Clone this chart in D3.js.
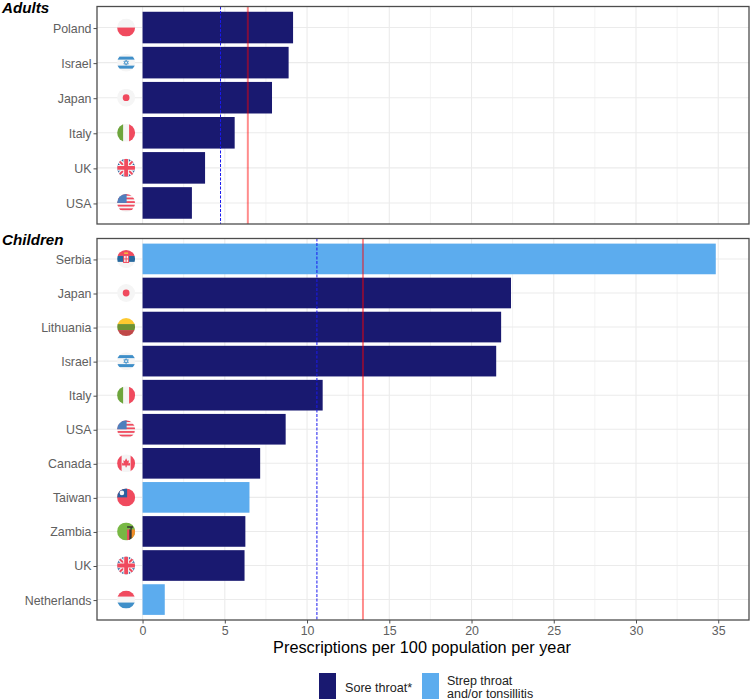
<!DOCTYPE html>
<html><head><meta charset="utf-8">
<script src="https://cdn.jsdelivr.net/npm/d3@7"></script>
<style>html,body{margin:0;padding:0;background:#fff}svg{display:block}text{font-family:"Liberation Sans",Arial,sans-serif}</style>
</head><body><svg id="c" width="750" height="700"></svg>
<script>
const adultCountries=["Poland","Israel","Japan","Italy","UK","USA"];
const adultValues=[9.15,8.88,7.87,5.6,3.8,3.0];
const adultTypes=["s","s","s","s","s","s"];
const childCountries=["Serbia","Japan","Lithuania","Israel","Italy","USA","Canada","Taiwan","Zambia","UK","Netherlands"];
const childValues=[34.85,22.4,21.8,21.5,10.95,8.7,7.15,6.5,6.25,6.2,1.35];
const childTypes=["t","s","s","s","s","s","s","t","s","s","t"];
const adultMedian=4.74, adultMean=6.4, childMedian=10.6, childMean=13.4;
const xTicks=[0,5,10,15,20,25,30,35];
const xMinor=[2.5,7.5,12.5,17.5,22.5,27.5,32.5];
const legendLabels=["Sore throat*",["Strep throat","and/or tonsillitis"]];
const NAVY="#191970",SKY="#5cacee",GRID="#ebebeb",AX="#4d4d4d",TICK="#606060";
const svg=d3.select("#c");
const L=97,R=749;
const x=d3.scaleLinear().domain([-2.77,36.87]).range([L,R]);
let clipN=0;
function flag(g,name){
  const r=9,id="fc"+(clipN++);
  g.append("clipPath").attr("id",id).append("circle").attr("r",r);
  const f=g.append("g").attr("clip-path",`url(#${id})`);
  const rect=(a,b,w,h,c)=>f.append("rect").attr("x",a).attr("y",b).attr("width",w).attr("height",h).attr("fill",c);
  const line=(a,b,c,d,col,w)=>f.append("line").attr("x1",a).attr("y1",b).attr("x2",c).attr("y2",d).attr("stroke",col).attr("stroke-width",w);
  const W="#f5f5f5",RD="#f04a5e",BL="#3f8fc9",DB="#2a5f9e";
  rect(-r,-r,18,18,W);
  if(name==="Poland"){rect(-r,0,18,9,RD);}
  if(name==="Israel"){rect(-r,-6,18,3,BL);rect(-r,3,18,3,BL);
    f.append("path").attr("d","M0,-2.6L2.3,1.4H-2.3ZM0,2.6L2.3,-1.4H-2.3Z").attr("fill","none").attr("stroke",BL).attr("stroke-width",.7);}
  if(name==="Japan"){f.append("circle").attr("r",3.4).attr("fill",RD);}
  if(name==="Italy"){rect(-r,-r,6,18,"#6da53c");rect(3,-r,6,18,RD);}
  if(name==="UK"){rect(-r,-r,18,18,DB);
    line(-9,-9,9,9,W,4.5);line(-9,9,9,-9,W,4.5);line(-9,-9,9,9,RD,2);line(-9,9,9,-9,RD,2);
    line(-9,0,9,0,W,5.6);line(0,-9,0,9,W,5.6);line(-9,0,9,0,RD,3.8);line(0,-9,0,9,RD,3.8);}
  if(name==="USA"){for(let i=0;i<5;i++)rect(-r,-9+i*3.6,18,1.8,RD);rect(-r,-9,9.5,9,"#4f7fbd");}
  if(name==="Serbia"){rect(-r,-9,18,6,RD);rect(-r,-3,18,6,"#27689e");rect(-r,3,18,6,W);
    rect(-3,-5,6,9,RD);rect(-2,-3,4,6,W);line(0,-3,0,3,RD,1);line(-2,0,2,0,RD,1);rect(-2,-6.5,4,1.5,"#f0c040");}
  if(name==="Lithuania"){rect(-r,-9,18,6,"#fdc92f");rect(-r,-3,18,6,"#6d9233");rect(-r,3,18,6,"#c04848");}
  if(name==="Canada"){rect(-r,-r,4.5,18,RD);rect(4.5,-r,4.5,18,RD);
    f.append("path").attr("d","M0,-5L1.4,-2.4L2.8,-3L2.4,.2L4,-.6L4,2.2H.6V4H-.6V2.2H-4L-4,-.6L-2.4,.2L-2.8,-3L-1.4,-2.4Z").attr("fill",RD);}
  if(name==="Taiwan"){rect(-r,-r,18,18,RD);rect(-r,-r,10,9,DB);f.append("circle").attr("cx",-4.2).attr("cy",-4.5).attr("r",2.3).attr("fill",W);}
  if(name==="Zambia"){rect(-r,-r,18,18,"#78b844");rect(1,-2,2.6,11,RD);rect(3.2,-2,2.6,11,"#333");rect(5.6,-2,3.4,11,"#f28c28");
    f.append("path").attr("d","M1,-4.5H7M5,-4.5V-2").attr("stroke","#333").attr("stroke-width",1.4).attr("fill","none");}
  if(name==="Netherlands"){rect(-r,-9,18,6,RD);rect(-r,3,18,6,BL);}
}
function panel(top,bottom,names,vals,types,title,dashVal,dashCol,redVal,showAxis){
  const y=d3.scalePoint().domain(names).range([top,bottom]).padding(0.6);
  const bw=y.step()*0.9;
  const g=svg.append("g");
  g.selectAll(".mi").data(xMinor).join("line").attr("x1",d=>x(d)).attr("x2",d=>x(d)).attr("y1",top).attr("y2",bottom).attr("stroke",GRID).attr("stroke-width",.6);
  g.selectAll(".mj").data(xTicks).join("line").attr("x1",d=>x(d)).attr("x2",d=>x(d)).attr("y1",top).attr("y2",bottom).attr("stroke",GRID).attr("stroke-width",1.1);
  g.selectAll(".hz").data(names).join("line").attr("x1",L).attr("x2",R).attr("y1",d=>y(d)).attr("y2",d=>y(d)).attr("stroke",GRID).attr("stroke-width",1.1);
  g.selectAll(".bar").data(names).join("rect").attr("x",x(0)).attr("y",d=>y(d)-bw/2)
    .attr("width",(d,i)=>x(vals[i])-x(0)).attr("height",bw)
    .attr("fill",(d,i)=>types[i]==="s"?NAVY:SKY);
  g.selectAll(".fl").data(names).join("g").attr("transform",d=>`translate(${x(-1)},${y(d)})`).each(function(d){flag(d3.select(this),d);});
  g.append("line").attr("x1",x(dashVal)).attr("x2",x(dashVal)).attr("y1",top).attr("y2",bottom).attr("stroke",dashCol).attr("stroke-width",1).attr("stroke-dasharray","3,1.5");
  g.append("line").attr("x1",x(redVal)).attr("x2",x(redVal)).attr("y1",top).attr("y2",bottom).attr("stroke","#ff0000").attr("stroke-opacity",.45).attr("stroke-width",2);
  g.append("rect").attr("x",L).attr("y",top).attr("width",R-L).attr("height",bottom-top).attr("fill","none").attr("stroke",AX).attr("stroke-width",1.3);
  const ya=d3.axisLeft(y).tickSize(3.5).tickPadding(2);
  const yg=svg.append("g").attr("transform",`translate(${L},0.5)`).call(ya);
  yg.select(".domain").remove();
  yg.selectAll("line").attr("stroke",AX);
  yg.selectAll("text").attr("font-size",12.4).attr("fill",TICK);
  svg.append("text").attr("x",2).attr("y",top+6).attr("font-size",15.2).attr("font-weight","bold").attr("font-style","italic").attr("fill","#000").text(title);
  if(showAxis){
    const xa=d3.axisBottom(x).tickValues(xTicks).tickSize(3.5).tickPadding(3);
    const xg=svg.append("g").attr("transform",`translate(0,${bottom})`).call(xa);
    xg.select(".domain").remove();
    xg.selectAll("line").attr("stroke",AX);
    xg.selectAll("text").attr("font-size",12.4).attr("fill",TICK);
  }
}
panel(6.5,224,adultCountries,adultValues,adultTypes,"Adults",adultMedian,"#1a1aee",adultMean,false);
panel(238.5,620,childCountries,childValues,childTypes,"Children",childMedian,"#1a1aee",childMean,true);
svg.append("text").attr("x",422).attr("y",653).attr("text-anchor","middle").attr("font-size",16.3).attr("fill","#000").text("Prescriptions per 100 population per year");
const lg=svg.append("g");
[NAVY,SKY].forEach((c,i)=>{lg.append("rect").attr("x",i?422:319).attr("y",673).attr("width",17).attr("height",26).attr("fill",c);});
lg.append("text").attr("x",345).attr("y",692).attr("font-size",12.6).attr("fill","#222").text(legendLabels[0]);
legendLabels[1].forEach((t,i)=>lg.append("text").attr("x",447).attr("y",685+i*13).attr("font-size",12.5).attr("fill","#222").text(t));
</script></body></html>
